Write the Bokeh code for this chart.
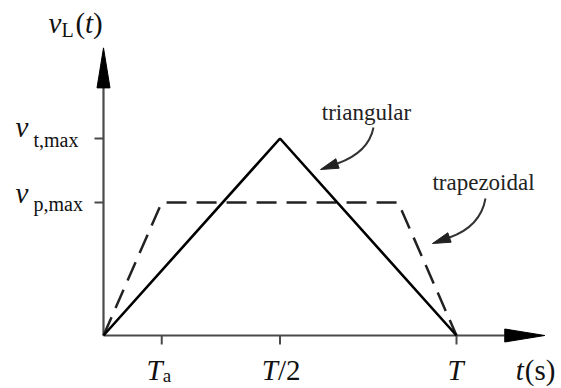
import numpy as np
from bokeh.plotting import figure
from bokeh.models import Range1d
from bokeh.core.properties import value
from bokeh.embed import file_html
from bokeh.resources import INLINE

# ---- data: one period T, voltages relative to v_t,max ----
T = 1.0
T_a = 0.165
v_t_max = 1.0
v_p_max = 0.675

tri_t = [0.0, T / 2, T]
tri_v = [0.0, v_t_max, 0.0]
trap_t = [0.0, T_a, T - T_a, T]
trap_v = [0.0, v_p_max, v_p_max, 0.0]

x_ticks = [T_a, T / 2, T]
y_ticks = [v_p_max, v_t_max]

# axis extents in data units
t_axis_end = 1.25 * T
v_axis_end = 1.46 * v_t_max

# ---- layout ----
W, H = 561, 388
OX, OY = 103, 335      # origin position on the canvas (px)
SX, SY = 353, 197      # px per unit of t and of v

p = figure(width=W, height=H,
           x_range=Range1d(-OX / SX, (W - OX) / SX),
           y_range=Range1d(-(H - OY) / SY, OY / SY),
           x_axis_type=None, y_axis_type=None,
           toolbar_location=None, output_backend="svg", min_border=0)
p.outline_line_color = None
p.background_fill_color = "white"
p.border_fill_color = "white"


def to_data(x, y):
    """canvas pixel -> data coordinates"""
    return (x - OX) / SX, (OY - y) / SY


AXIS = "#4a4a4a"
INK = "#111111"
HEAD_L, HEAD_HW = 40, 6.5
TICK = 9

# axes with long filled arrowheads
p.line([0, t_axis_end - HEAD_L / SX], [0, 0], line_color=AXIS, line_width=2.2)
p.patch([t_axis_end - HEAD_L / SX, t_axis_end, t_axis_end - HEAD_L / SX],
        [HEAD_HW / SY, 0, -HEAD_HW / SY], color="black")
p.line([0, 0], [0, v_axis_end - HEAD_L / SY], line_color=AXIS, line_width=2.2)
p.patch([-HEAD_HW / SX, 0, HEAD_HW / SX],
        [v_axis_end - HEAD_L / SY, v_axis_end, v_axis_end - HEAD_L / SY], color="black")

# tick marks
p.segment(x0=x_ticks, y0=[0] * len(x_ticks), x1=x_ticks, y1=[-TICK / SY] * len(x_ticks),
          line_color=AXIS, line_width=2)
p.segment(x0=[-TICK / SX] * len(y_ticks), y0=y_ticks, x1=[0] * len(y_ticks), y1=y_ticks,
          line_color=AXIS, line_width=2)

# voltage profiles
p.line(trap_t, trap_v, line_color="#222222", line_width=2.5, line_dash="20 10")
p.line(tri_t, tri_v, line_color="black", line_width=2.6)

SERIF = value("Liberation Serif")
BIG, SUB = 29, 20


def put(x, y, s, dx, dy, size=BIG, italic=False, align="left", color=INK):
    """place a text piece; dy is the baseline offset below the anchor (px)"""
    p.text(x=[x], y=[y], text=[s], x_offset=dx, y_offset=dy - 0.35 * size,
           text_font=SERIF, text_font_size=f"{size}px",
           text_font_style="italic" if italic else "normal",
           text_align=align, text_baseline="alphabetic", text_color=color)


# x tick labels
put(T_a, 0, "T", 1, 45, italic=True, align="right")
put(T_a, 0, "a", 1, 47, size=19)
put(T / 2, 0, "T", -2, 45, italic=True, align="right")
put(T / 2, 0, "/2", -2, 45)
put(T, 0, "T", -1, 45, italic=True, align="center")
put(t_axis_end, 0, "t", -29, 45, italic=True)
put(t_axis_end, 0, "(s)", -20, 45)

# y tick labels
put(0, v_t_max, "v", -88, -1, italic=True)
put(0, v_t_max, "t,max", -70, 8, size=SUB)
put(0, v_p_max, "v", -88, 1, italic=True)
put(0, v_p_max, "p,max", -70, 8, size=SUB)

# y axis title
put(0, v_axis_end, "v", -55, -15, italic=True)
put(0, v_axis_end, "L", -42, -11, size=SUB)
put(0, v_axis_end, "(", -28, -15)
put(0, v_axis_end, "t", -18.5, -15, italic=True)
put(0, v_axis_end, ")", -10.5, -15)


# curved pointer arrows with their captions
def pointer(start, ctrl, end, head_len=18, head_w=10):
    s, c, e = (np.array(v, float) for v in (start, ctrl, end))
    d = (e - c) / np.linalg.norm(e - c)
    n = np.array([-d[1], d[0]])
    base = e - head_len * d
    sx0, sy0 = to_data(*s)
    cx, cy = to_data(*c)
    bx, by = to_data(*base)
    p.quadratic(x0=[sx0], y0=[sy0], x1=[bx], y1=[by], cx=[cx], cy=[cy],
                line_color="#333333", line_width=2)
    pts = [e, base + n * head_w / 2, base - n * head_w / 2]
    xs, ys = zip(*(to_data(*q) for q in pts))
    p.patch(list(xs), list(ys), color="#222222")


pointer((373, 127), (368, 152), (320, 169))
pointer((485, 198), (480, 226), (432, 243))

tx, ty = to_data(366, 120)
put(tx, ty, "triangular", 0, 0, size=23, align="center", color="#222222")
tx, ty = to_data(483, 190)
put(tx, ty, "trapezoidal", 0, 0, size=23, align="center", color="#222222")

open("out.html", "w").write(file_html(p, INLINE))
